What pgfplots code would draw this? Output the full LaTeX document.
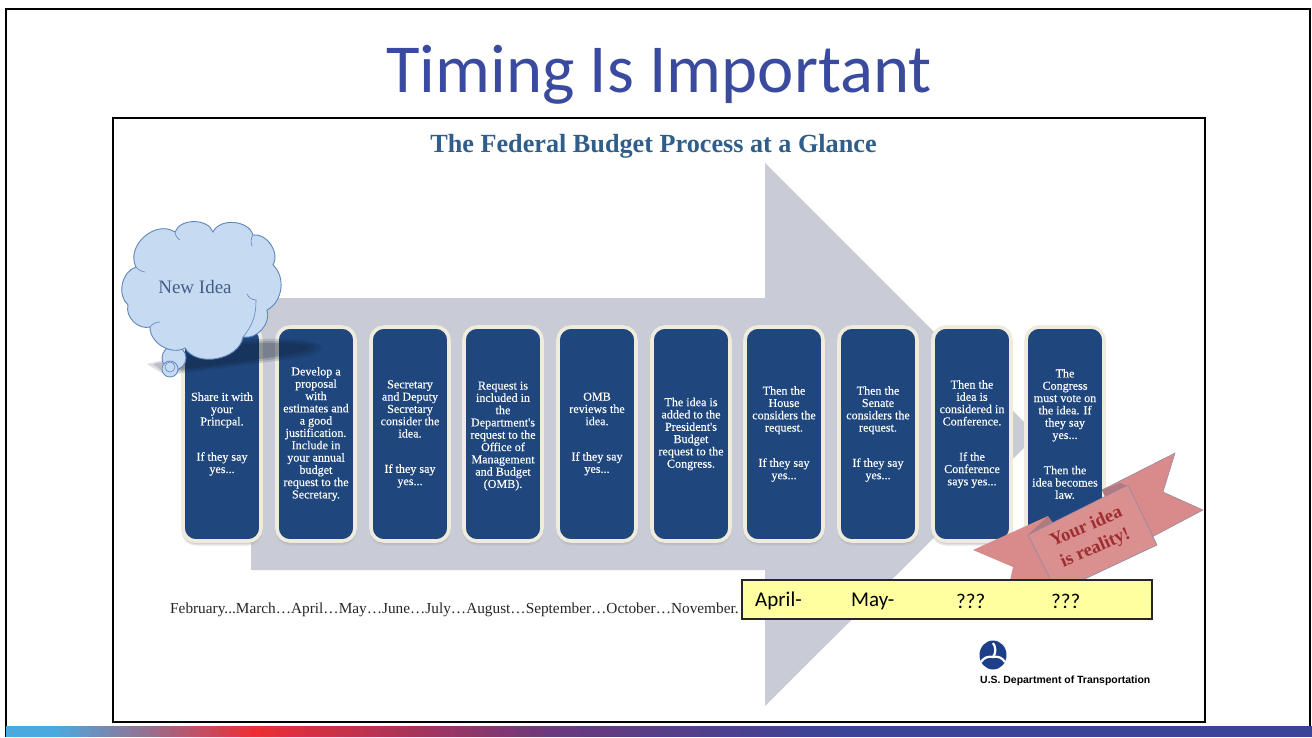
\documentclass[border=0pt]{standalone}
\usepackage{fontspec}
\usepackage{pgfplots}
\pgfplotsset{compat=1.18}
\setmainfont{Liberation Serif}
\newfontfamily\calf{Carlito}
\newfontfamily\ars{Liberation Sans}
\newfontfamily\bxf[FakeBold=0.2]{Liberation Serif}
\definecolor{arrowc}{HTML}{C9CCD7}
\definecolor{navy}{HTML}{1F467D}
\definecolor{cream}{HTML}{EFEBDD}
\definecolor{cloudc}{HTML}{C6DAF2}
\definecolor{cloudl}{HTML}{5F86BE}
\definecolor{ribc}{HTML}{D98B8B}
\definecolor{ribp}{HTML}{DB9090}
\definecolor{ribd}{HTML}{B07A7E}
\definecolor{ribl}{HTML}{8C88A8}
\definecolor{yel}{HTML}{FFFF9F}
\definecolor{titlec}{HTML}{3A4A9F}
\definecolor{subc}{HTML}{2F5E8A}
\definecolor{dotc}{HTML}{1D3F8A}
\definecolor{gA}{RGB}{75,169,224}
\definecolor{gB}{RGB}{238,46,52}
\definecolor{gC}{RGB}{107,58,126}
\definecolor{gD}{RGB}{59,68,151}
\newcommand\sg[3]{\addplot[draw=none,fill=#3] coordinates {(#1,726) (#2,726) (#2,737) (#1,737)} --cycle;}
\newcommand\bx[2]{%
 \addplot[draw=black!30,opacity=.35,line width=3pt,rounded corners=13pt,fill=black!30] coordinates {(#1,329) (#2,329) (#2,544) (#1,544)} --cycle;
 \addplot[draw=cream,line width=3.6pt,fill=navy,rounded corners=13pt] coordinates {(#1,327) (#2,327) (#2,541) (#1,541)} --cycle;}
\newcommand\bt[3]{\node[text=white,align=center,inner sep=0pt,font=\bxf\fontsize{12.1}{12.3}\selectfont] at (axis cs:#1,#2) {#3};}
\begin{document}
\begin{tikzpicture}
\begin{axis}[scale only axis,width=1312pt,height=737pt,xmin=0,xmax=1312,ymin=0,ymax=737,y dir=reverse,axis lines=none]
% page
\addplot[draw=none,fill=white] coordinates {(0,0) (1312,0) (1312,737) (0,737)} --cycle;
\addplot[draw=black,line width=2pt] coordinates {(6,737) (6,8.5) (1310,8.5) (1310,737)};
% gradient bar
\sg{6}{62}{gA}
\sg{60}{71}{gB!5!gA}\sg{70}{81}{gB!10!gA}\sg{80}{91}{gB!15!gA}\sg{90}{101}{gB!20!gA}\sg{100}{111}{gB!25!gA}
\sg{110}{121}{gB!30!gA}\sg{120}{131}{gB!35!gA}\sg{130}{141}{gB!40!gA}\sg{140}{151}{gB!45!gA}\sg{150}{161}{gB!50!gA}
\sg{160}{171}{gB!55!gA}\sg{170}{181}{gB!60!gA}\sg{180}{191}{gB!65!gA}\sg{190}{201}{gB!70!gA}\sg{200}{211}{gB!75!gA}
\sg{210}{221}{gB!80!gA}\sg{220}{231}{gB!85!gA}\sg{230}{241}{gB!90!gA}\sg{240}{251}{gB!95!gA}\sg{250}{262}{gB}
\sg{260}{276}{gC!5!gB}\sg{275}{291}{gC!10!gB}\sg{290}{306}{gC!15!gB}\sg{305}{321}{gC!20!gB}\sg{320}{336}{gC!25!gB}
\sg{335}{351}{gC!30!gB}\sg{350}{366}{gC!35!gB}\sg{365}{381}{gC!40!gB}\sg{380}{396}{gC!45!gB}\sg{395}{411}{gC!50!gB}
\sg{410}{426}{gC!55!gB}\sg{425}{441}{gC!60!gB}\sg{440}{456}{gC!65!gB}\sg{455}{471}{gC!70!gB}\sg{470}{486}{gC!75!gB}
\sg{485}{501}{gC!80!gB}\sg{500}{516}{gC!85!gB}\sg{515}{531}{gC!90!gB}\sg{530}{546}{gC!95!gB}\sg{545}{562}{gC}
\sg{560}{582}{gD!7!gC}\sg{580}{602}{gD!14!gC}\sg{600}{622}{gD!21!gC}\sg{620}{642}{gD!28!gC}\sg{640}{662}{gD!35!gC}
\sg{660}{682}{gD!42!gC}\sg{680}{702}{gD!49!gC}\sg{700}{722}{gD!56!gC}\sg{720}{742}{gD!63!gC}\sg{740}{762}{gD!70!gC}
\sg{760}{782}{gD!77!gC}\sg{780}{802}{gD!84!gC}\sg{800}{822}{gD!91!gC}\sg{820}{842}{gD!96!gC}
\sg{840}{1312}{gD}
% frame
\addplot[draw=black,line width=2pt,fill=white] coordinates {(113,117.5) (1205,117.5) (1205,722) (113,722)} --cycle;
% big arrow
\addplot[draw=none,fill=arrowc] coordinates {(251,298) (765,298) (765,163) (1037,435) (765,706) (765,570) (251,570)} --cycle;
% boxes
\bx{183}{261}\bx{277}{355}\bx{371}{449}\bx{464}{542}\bx{558}{636}\bx{652}{730}\bx{745}{823}\bx{839}{917}\bx{933}{1011}\bx{1026}{1104}
\bt{222}{434}{Share it with\\your\\Princpal.\\[23pt]If they say\\yes...}
\bt{316}{434}{Develop a\\proposal\\with\\estimates and\\a good\\justification.\\Include in\\your annual\\budget\\request to the\\Secretary.}
\bt{410}{434}{Secretary\\and Deputy\\Secretary\\consider the\\idea.\\[23pt]If they say\\yes...}
\bt{503}{436}{Request is\\included in\\the\\Department's\\request to the\\Office of\\Management\\and Budget\\(OMB).}
\bt{597}{434}{OMB\\reviews the\\idea.\\[23pt]If they say\\yes...}
\bt{691}{434}{The idea is\\added to the\\President's\\Budget\\request to the\\Congress.}
\bt{784}{434}{Then the\\House\\considers the\\request.\\[23pt]If they say\\yes...}
\bt{878}{434}{Then the\\Senate\\considers the\\request.\\[23pt]If they say\\yes...}
\bt{972}{434}{Then the\\idea is\\considered in\\Conference.\\[23pt]If the\\Conference\\says yes...}
\bt{1065}{434}{The\\Congress\\must vote on\\the idea. If\\they say\\yes...\\[23pt]Then the\\idea becomes\\law.}
% smear
\addplot[draw=none,fill=black!60!navy,opacity=.14,smooth] coordinates {(147,364) (170,358) (200,345) (260,339) (300,340) (321,346) (310,356) (260,363) (200,371) (165,375)} --cycle;
\addplot[draw=none,fill=black!60!navy,opacity=.16,smooth] coordinates {(153,364) (175,359) (205,347) (260,341) (300,342) (316,346) (306,354) (260,361) (200,369) (165,373)} --cycle;
\addplot[draw=none,fill=black!60!navy,opacity=.2,smooth] coordinates {(165,364) (180,360) (210,349) (260,343) (295,344) (309,346) (300,352) (260,359) (200,367) (170,371)} --cycle;
% bubbles and cloud
\draw[fill=cloudc,draw=cloudl,line width=.9pt] (axis cs:174,358) circle[radius=12pt];
\draw[fill=cloudc,draw=cloudl,line width=.8pt] (axis cs:170,369) circle[radius=8pt];
\draw[draw=cloudl,line width=.6pt] (axis cs:170,367) circle[radius=5pt];
\path[fill=cloudc,draw=cloudl,line width=.9pt] (axis cs:136,267)
 to[bend left=75,looseness=1.15] (axis cs:175,232)
 to[bend left=70] (axis cs:213,232)
 to[bend left=70] (axis cs:253,235)
 to[bend left=65] (axis cs:273,265)
 to[bend left=55] (axis cs:267,310)
 to[bend left=60] (axis cs:243,337)
 to[bend left=70] (axis cs:185,348)
 to[bend left=60] (axis cs:150,327)
 to[bend left=60] (axis cs:128,305)
 to[bend left=60] (axis cs:136,267) -- cycle;
\draw[cloudl,line width=.6pt] (axis cs:243,337) to[bend right=20] (axis cs:256,300) to[bend left=30] (axis cs:247,294);
\draw[cloudl,line width=.6pt] (axis cs:136,267) to[bend right=20] (axis cs:145,272);
\draw[cloudl,line width=.6pt] (axis cs:175,232) to[bend right=25] (axis cs:180,240);
\draw[cloudl,line width=.6pt] (axis cs:253,235) to[bend right=25] (axis cs:252,246);
\draw[cloudl,line width=.6pt] (axis cs:150,327) to[bend left=25] (axis cs:160,322);
\node[text=cloudl!70!black,font=\fontsize{19}{20}\selectfont,inner sep=0pt] at (axis cs:195,287) {New Idea};
% ribbon
\addplot[draw=ribl,line width=.5pt,fill=ribc] coordinates {(1102,490) (1175,453) (1163,492) (1203,510) (1152,537)} --cycle;
\addplot[draw=none,fill=ribc] coordinates {(973,550) (1048,516) (1057,590) (1008,590) (1013,567)} --cycle;
\addplot[draw=none,fill=ribd] coordinates {(1028,535) (1048,516) (1053,523) (1032,538)} --cycle;
\addplot[draw=none,fill=ribd] coordinates {(1102,490) (1120,483) (1130,487) (1106,499)} --cycle;
\addplot[draw=ribl,line width=.6pt,fill=ribp] coordinates {(1028,535) (1128,485) (1157,545) (1057,592)} --cycle;
\node[rotate=23.5,text={rgb,255:red,160;green,45;blue,50},align=center,inner sep=0pt,font=\bfseries\fontsize{18.5}{23}\selectfont] at (axis cs:1091,538) {Your idea\\is reality!};
% months
\node[anchor=west,inner sep=0pt,font=\fontsize{15.3}{17}\selectfont,text=black!85] at (axis cs:170,610) {February...March…April…May…June…July…August…September…October…November.};
% yellow
\addplot[draw=black!85,line width=1.2pt,fill=yel] coordinates {(742,580) (1152,580) (1152,619) (742,619)} --cycle;
\node[anchor=west,inner sep=0pt,font=\calf\fontsize{21}{22}\selectfont] at (axis cs:755,601) {April-};
\node[anchor=west,inner sep=0pt,font=\calf\fontsize{21}{22}\selectfont] at (axis cs:851,601) {May-};
\node[anchor=west,inner sep=0pt,font=\calf\fontsize{21}{22}\selectfont] at (axis cs:956,601) {???};
\node[anchor=west,inner sep=0pt,font=\calf\fontsize{21}{22}\selectfont] at (axis cs:1051,601) {???};
% titles
\node[text=titlec,inner sep=0pt,font=\calf\fontsize{68.7}{72}\selectfont] at (axis cs:659,75) {Timing Is Important};
\node[text=subc,inner sep=0pt,font=\bfseries\fontsize{26.2}{28}\selectfont] at (axis cs:653.5,146.5) {The Federal Budget Process at a Glance};
% logo
\fill[dotc] (axis cs:993,655) ellipse[x radius=13.5pt,y radius=14.5pt];
\draw[white,line width=2.2pt] (axis cs:993,643) to[bend left=35] (axis cs:993,657);
\draw[white,line width=2.2pt] (axis cs:993,657) to[bend right=35] (axis cs:981,662);
\draw[white,line width=2.2pt] (axis cs:993,657) to[bend left=35] (axis cs:1005,662);
\node[anchor=west,inner sep=0pt,font=\ars\bfseries\fontsize{10.45}{11}\selectfont,text=black] at (axis cs:980,681) {U.S. Department of Transportation};
\end{axis}
\end{tikzpicture}
\end{document}
